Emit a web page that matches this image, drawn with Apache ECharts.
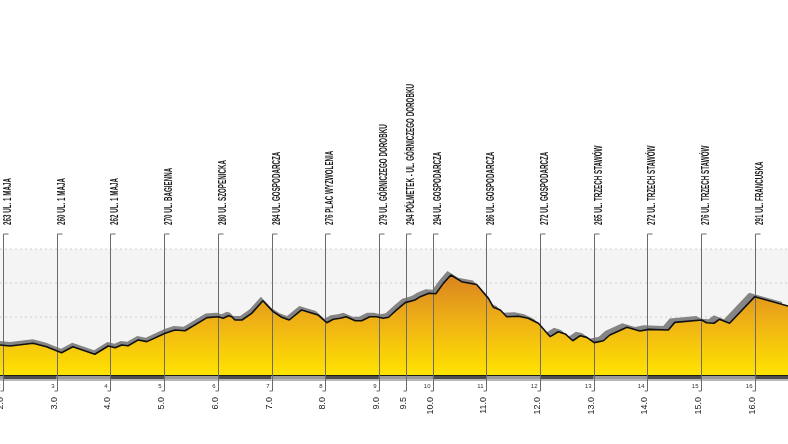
<!DOCTYPE html>
<html><head><meta charset="utf-8">
<script src="https://cdn.jsdelivr.net/npm/echarts@6/dist/echarts.min.js"></script>
<style>html,body{margin:0;padding:0;background:#fff}#c{width:788px;height:444px}</style>
</head><body><div id="c"></div>
<script>
// ---- data ----
const profileKm = [1.944,2.13,2.56,2.81,3.09,3.30,3.71,3.96,4.09,4.21,4.33,4.52,4.68,5.02,5.20,5.39,5.80,6.01,6.10,6.20,6.26,6.32,6.45,6.63,6.84,7.03,7.19,7.33,7.56,7.87,8.03,8.15,8.28,8.39,8.56,8.68,8.83,8.96,9.08,9.18,9.33,9.49,9.67,9.77,9.93,10.06,10.20,10.34,10.54,10.64,10.82,11.04,11.13,11.26,11.38,11.60,11.78,11.97,12.19,12.34,12.47,12.61,12.75,12.87,13.01,13.18,13.30,13.62,13.86,14.02,14.39,14.51,15.01,15.10,15.24,15.34,15.53,16.00,16.62];
const profileElev = [263.6,263.0,264.6,262.6,259.1,262.6,258.2,263.0,262.0,263.6,263.2,266.6,265.6,270.5,272.4,272.0,279.7,280.2,279.3,280.8,280.2,278.3,278.3,282.2,289.6,283.2,279.9,278.3,284.2,281.2,276.7,278.7,279.3,280.2,277.9,277.9,280.2,280.2,279.3,279.9,284.2,288.5,290.0,292.0,294.0,293.7,299.8,304.7,300.8,300.2,299.1,291.0,285.8,284.2,280.2,280.5,279.3,276.4,268.5,271.4,270.1,266.1,269.1,268.1,265.0,266.1,269.5,274.0,271.8,272.8,272.4,276.9,278.3,276.7,276.4,278.7,276.4,292.0,286.5];
const checkpointKm = [2,3,4,5,6,7,8,9,9.5,10,11,12,13,14,15,16];
const checkpointElev = [263,260,262,270,280,284,276,279,294,294,286,272,265,272,276,291];
const checkpointStreet = ['UL. 1 MAJA','UL. 1 MAJA','UL. 1 MAJA','UL. BAGIENNA','UL. SZOPENICKA','UL. GOSPODARCZA','PLAC WYZWOLENIA','UL. GÓRNICZEGO DOROBKU','PÓŁMETEK - UL. GÓRNICZEGO DOROBKU','UL. GOSPODARCZA','UL. GOSPODARCZA','UL. GOSPODARCZA','UL. TRZECH STAWÓW','UL. TRZECH STAWÓW','UL. TRZECH STAWÓW','UL. FRANCUSKA'];
const kmTickLabels = ['2.0','3.0','4.0','5.0','6.0','7.0','8.0','9.0','9.5','10.0','11.0','12.0','13.0','14.0','15.0','16.0'];
const kmMarkers = ['2','3','4','5','6','7','8','9','','10','11','12','13','14','15','16'];
const gridElev = [260,280,300,320];
const rulerKm = [1,2,3,4,5,6,7,8,9,10,11,12,13,14,15,16];

// ---- layout ----
const X_MIN = 1.944, X_MAX = 16.618, Y_MIN = 246, Y_MAX = 320;
const profile = profileKm.map((k,i)=>[k, profileElev[i]]);
const labelText = checkpointKm.map((k,i)=>checkpointElev[i] + ' ' + checkpointStreet[i]);

// condensed look for the top labels: measure the longest label and squeeze it
const LABEL_FONT = 'bold 10px "Liberation Sans", Arial, sans-serif';
const LONGEST_PX = 141;
const mctx = document.createElement('canvas').getContext('2d');
mctx.font = LABEL_FONT;
const maxW = Math.max(...labelText.map(t=>mctx.measureText(t).width));
const squeeze = LONGEST_PX / maxW;

const chart = echarts.init(document.getElementById('c'), null, {renderer:'canvas'});
const axX = (gi)=>({type:'value', gridIndex:gi, min:X_MIN, max:X_MAX, show:gi===0,
  axisLine:{show:gi===0, onZero:false, lineStyle:{color:'#1a1a1a', width:2}}, axisTick:{show:false}, axisLabel:{show:false}, splitLine:{show:false}});
const axY = (gi)=>({type:'value', gridIndex:gi, min:Y_MIN, max:Y_MAX, show:false, splitLine:{show:false}});

chart.setOption({
  animation:false,
  backgroundColor:'#ffffff',
  grid:[
    {left:0, right:0, top:249, bottom:69, show:true, backgroundColor:'#f4f4f4', borderWidth:0},
    {left:-6, right:6, top:245, bottom:73, show:false}
  ],
  xAxis:[axX(0), axX(1)],
  yAxis:[axY(0), axY(1)],
  series:[
    { // dotted elevation grid lines
      type:'custom', xAxisIndex:0, yAxisIndex:0, z:1, silent:true, clip:false,
      data: gridElev.map(v=>[X_MIN, v]),
      renderItem:(p, api)=>{
        const a = api.coord([X_MIN, api.value(1)]);
        const b = api.coord([X_MAX, api.value(1)]);
        return {type:'line', shape:{x1:a[0], y1:a[1], x2:b[0], y2:b[1]},
          style:{stroke:'#cfcfcf', lineWidth:1, lineDash:[2,3]}};
      }
    },
    { // grey shadow of the profile
      type:'line', xAxisIndex:1, yAxisIndex:1, z:2, silent:true,
      data: profile, symbol:'none', lineStyle:{width:0},
      areaStyle:{color:'#858585', opacity:1}
    },
    { // filled profile
      type:'line', xAxisIndex:0, yAxisIndex:0, z:3, silent:true,
      data: profile, symbol:'none', lineStyle:{width:0},
      areaStyle:{opacity:1, color:new echarts.graphic.LinearGradient(0,0,0,1,[
        {offset:0, color:'#d9831f'},{offset:0.45, color:'#eeb016'},{offset:1, color:'#ffe300'}])}
    },
    { // ruler band under baseline
      type:'custom', xAxisIndex:0, yAxisIndex:0, z:4, silent:true, clip:false,
      data: rulerKm.map(k=>[k, Y_MIN]),
      renderItem:(p, api)=>{
        const k = api.value(0);
        const a = api.coord([Math.max(k, X_MIN), Y_MIN]);
        const b = api.coord([Math.min(k+1, X_MAX), Y_MIN]);
        return {type:'group', children:[
          {type:'rect', shape:{x:a[0], y:a[1]+1, width:b[0]-a[0], height:3},
            style:{fill: (k%2===0) ? '#4d4d4d' : '#9a9a9a'}},
          {type:'rect', shape:{x:a[0], y:a[1]+4, width:b[0]-a[0], height:2},
            style:{fill:'#b8b8b8'}}
        ]};
      }
    },
    { // checkpoint markers & labels
      type:'custom', xAxisIndex:0, yAxisIndex:0, z:5, silent:true, clip:false,
      data: checkpointKm.map((k,i)=>[k, checkpointElev[i]]),
      renderItem:(p, api)=>{
        const i = p.dataIndex;
        const base = api.coord([api.value(0), Y_MIN]);
        const top = api.coord([api.value(0), Y_MAX]);
        const x = Math.round(base[0]) + 0.5;
        const yTop = top[1] - 15, yBot = base[1] + 16;
        const ch = [
          {type:'line', shape:{x1:x, y1:yTop, x2:x, y2:yBot}, style:{stroke:'#6a6a6a', lineWidth:1}},
          {type:'line', shape:{x1:x, y1:yTop, x2:x+5, y2:yTop}, style:{stroke:'#6a6a6a', lineWidth:1}},
          {type:'line', shape:{x1:x, y1:yBot, x2:x-3, y2:yBot}, style:{stroke:'#6a6a6a', lineWidth:1}},
          {type:'text', x:x+4.5, y:yTop-9, rotation:Math.PI/2, scaleX:squeeze, scaleY:1,
            style:{text: labelText[i], align:'left', verticalAlign:'middle',
              font:LABEL_FONT, fill:'#1a1a1a'}},
          {type:'text', x:x-3, y:base[1]+22, rotation:Math.PI/2,
            style:{text: kmTickLabels[i], align:'right', verticalAlign:'middle',
              font:'9px "Liberation Sans", Arial, sans-serif', fill:'#222'}}
        ];
        if (kmMarkers[i]) ch.push({type:'text', x:x-3, y:base[1]+11,
            style:{text: kmMarkers[i], align:'right', verticalAlign:'middle',
              font:'6px "Liberation Sans", Arial, sans-serif', fill:'#333'}});
        return {type:'group', children:ch};
      }
    },
    { // profile outline
      type:'line', xAxisIndex:0, yAxisIndex:0, z:6, silent:true,
      data: profile, symbol:'none', lineStyle:{color:'#111', width:1.6}
    }
  ]
});
</script></body></html>
